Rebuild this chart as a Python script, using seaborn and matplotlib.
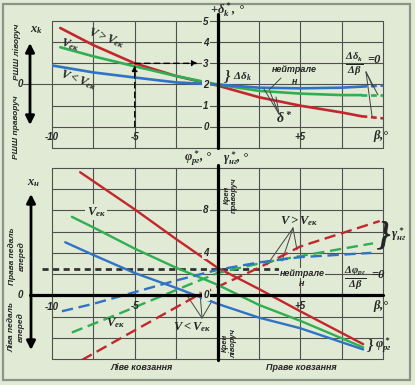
import numpy as np
import pandas as pd
import seaborn as sns
import matplotlib.pyplot as plt
from matplotlib.patches import Rectangle

# top panel: delta*_k (deg) against sideslip beta (deg)
top_beta_red = [-9.5, -7.5, -5, -2.5, 0, 2.5, 5, 7.5, 8.7]
top_red = [4.67, 3.86, 3.0, 2.4, 1.95, 1.4, 1.0, 0.68, 0.5]
top_beta_green = [-9.5, -7.5, -5, -2.5, 0, 2.5, 5, 7.5, 8.7]
top_green = [3.76, 3.33, 2.86, 2.4, 2.0, 1.7, 1.57, 1.5, 1.5]
top_beta_blue = [-10, -7.5, -5, -2.5, 0, 2.5, 5, 7.5, 8.7]
top_blue = [2.9, 2.57, 2.33, 2.1, 2.0, 1.85, 1.82, 1.85, 1.9]
tail_beta = [8.7, 10]
tail_red = [0.5, 0.4]
tail_green = [1.5, 1.5]
tail_blue = [1.9, 1.95]
# read-off example at beta = -5
probe_beta = -5
probe_delta = 3.0

# bottom panel: phi*_rg (solid) and gamma*_ng (dashed)
phi_beta_red = [-8.3, -5, -2.5, 0, 2.5, 5, 8.8]
phi_red = [11.6, 8.1, 5.3, 2.6, 0.6, -1.5, -4.6]
phi_beta_green = [-8.8, -7.5, -5, -2.5, 0, 2.5, 5, 8.8]
phi_green = [7.4, 6.4, 4.4, 2.6, 1.0, -0.9, -2.4, -4.9]
phi_beta_blue = [-9.2, -7.5, -5, -2.5, 0, 2.5, 5, 8.8]
phi_blue = [5.0, 3.8, 2.1, 0.7, -0.8, -2.1, -3.1, -5.1]
gam_beta_red = [-8.2, -5, -1.2, 0, 2.5, 5, 9.8]
gam_red = [-6.1, -3.3, 0, 0.8, 2.6, 4.6, 7.0]
gam_beta_green = [-8.8, -5.9, -2.5, 0, 2.5, 5, 9.4]
gam_green = [-3.5, -1.7, 0.5, 2.1, 3.0, 3.7, 4.9]
gam_beta_blue = [-9.4, -7.5, -5, -2.5, 0, 2.5, 5, 9.3]
gam_blue = [-1.5, -0.8, 0.3, 1.4, 2.4, 3.1, 3.6, 4.0]
neutral_beta = [-10.6, 6.6]
neutral_level = 2.5

W, H = 415, 385
BG = '#e0ead4'
GRID = '#505050'
pal = {'red': '#c3262d', 'green': '#2fae52', 'blue': '#2e73c6'}

sns.set_style('white')
plt.rcParams['font.family'] = ['Liberation Sans', 'DejaVu Sans']
plt.rcParams['mathtext.fontset'] = 'custom'
plt.rcParams['mathtext.rm'] = 'Liberation Serif:bold:italic'
plt.rcParams['mathtext.it'] = 'Liberation Serif:bold:italic'
plt.rcParams['mathtext.bf'] = 'Liberation Serif:bold:italic'


def frame(beta, vals, colour, kind):
    return pd.DataFrame({'beta': beta, 'val': vals, 'colour': colour, 'kind': kind})


top = pd.concat([
    frame(top_beta_red, top_red, 'red', 'main'),
    frame(top_beta_green, top_green, 'green', 'main'),
    frame(top_beta_blue, top_blue, 'blue', 'main'),
    frame(tail_beta, tail_red, 'red', 'tail'),
    frame(tail_beta, tail_green, 'green', 'tail'),
    frame(tail_beta, tail_blue, 'blue', 'tail'),
], ignore_index=True)

bot = pd.concat([
    frame(phi_beta_red, phi_red, 'red', 'phi'),
    frame(phi_beta_green, phi_green, 'green', 'phi'),
    frame(phi_beta_blue, phi_blue, 'blue', 'phi'),
    frame(gam_beta_red, gam_red, 'red', 'gamma'),
    frame(gam_beta_green, gam_green, 'green', 'gamma'),
    frame(gam_beta_blue, gam_blue, 'blue', 'gamma'),
], ignore_index=True)

fig = plt.figure(figsize=(W / 100, H / 100), dpi=100, facecolor=BG)
fig.add_artist(Rectangle((3 / W, 5 / H), 407 / W, 376 / H, transform=fig.transFigure,
                         fill=False, ec='#8d928a', lw=1.6))

ax1 = fig.add_axes([52 / W, 1 - 148 / H, 331 / W, 127 / H])
ax2 = fig.add_axes([52 / W, 1 - 359 / H, 331 / W, 191 / H])

for ax, lo, hi, step in [(ax1, -1, 5, 1), (ax2, -6, 12, 2)]:
    ax.set_facecolor('none')
    ax.set_xlim(-10, 10)
    ax.set_ylim(lo, hi)
    ax.set_xticks(np.arange(-10, 10.1, 2.5))
    ax.set_yticks(np.arange(lo, hi + 0.1, step))
    ax.grid(True, color=GRID, lw=0.8)
    for gl in ax.get_xgridlines() + ax.get_ygridlines():
        gl.set_clip_on(False)
    ax.tick_params(length=0, labelbottom=False, labelleft=False)
    for s in ax.spines.values():
        s.set_visible(False)

sns.lineplot(data=top, x='beta', y='val', hue='colour', style='kind', palette=pal,
             dashes={'main': '', 'tail': (2.2, 1.4)}, estimator=None, sort=False,
             lw=1.9, legend=False, ax=ax1)
sns.lineplot(data=bot, x='beta', y='val', hue='colour', style='kind', palette=pal,
             dashes={'phi': '', 'gamma': (4.8, 2.4)}, estimator=None, sort=False,
             lw=1.7, legend=False, ax=ax2)
ax1.set_xlabel(''); ax1.set_ylabel('')
ax2.set_xlabel(''); ax2.set_ylabel('')

# neutral level (dashed black) in bottom panel
ax2.plot(neutral_beta, [neutral_level] * 2, color='#333333', lw=2.0, ls=(0, (2.2, 1.6)),
         clip_on=False, zorder=1)

# thick axes
ax1.plot([0, 0], [-1, 5.35], color='k', lw=2.3, clip_on=False, zorder=5)
ax1.plot([-11.75, -10], [2, 2], color=GRID, lw=0.8, clip_on=False)
ax2.plot([0, 0], [-6.1, 12.3], color='k', lw=2.3, clip_on=False, zorder=5)
ax2.plot([-11.3, 10], [0, 0], color='k', lw=2.3, clip_on=False, zorder=5)

# dashed read-off arrows (top)
ax1.annotate('', xy=(probe_beta, probe_delta - 0.1), xytext=(probe_beta, 0),
             arrowprops=dict(arrowstyle='-|>', ls=(0, (4, 3)), lw=1.0, color='k',
                             mutation_scale=8, shrinkA=0, shrinkB=0))
ax1.annotate('', xy=(-1.2, probe_delta), xytext=(probe_beta, probe_delta),
             arrowprops=dict(arrowstyle='-|>', ls=(0, (4, 3)), lw=1.0, color='k',
                             mutation_scale=8, shrinkA=0, shrinkB=0))


def P(x, y):
    return (x, H - y)


def T(x, y, s, size=7, serif=False, box=False, **kw):
    fam = ['Liberation Serif', 'DejaVu Serif'] if serif else ['Liberation Sans', 'DejaVu Sans']
    kw.setdefault('ha', 'center')
    kw.setdefault('va', 'center')
    bb = dict(boxstyle='square,pad=0.1', fc=BG, ec='none') if box else None
    fig.text(x / W, 1 - y / H, s, fontsize=size, family=fam, weight='bold',
             style='italic', bbox=bb, zorder=10, **kw)


def lead(x0, y0, x1, y1):
    ax1.annotate('', xy=P(x1, y1), xytext=P(x0, y0), xycoords='figure pixels',
                 textcoords='figure pixels',
                 arrowprops=dict(arrowstyle='-', lw=0.7, color='#444444',
                                 shrinkA=0, shrinkB=0))


def dbl_arrow(x, y0, y1):
    ax1.annotate('', xy=P(x, y0), xytext=P(x, y1), xycoords='figure pixels',
                 textcoords='figure pixels',
                 arrowprops=dict(arrowstyle='<|-|>', lw=2.0, color='k',
                                 mutation_scale=13, shrinkA=0, shrinkB=0))


# ---- top panel texts
for v in range(6):
    T(206, 127 - 21 * v, str(v), 7, box=True)
T(52, 137, '-10', 7)
T(135, 137, '-5', 7)
T(300, 137, '+5', 7)
T(381, 136, r'$\beta$,°', 9, serif=True)
T(228, 10, r'$+\delta^*_k$, °', 9, serif=True)
T(228, 76, '}', 11, serif=True)
T(242, 77, r'$\Delta\delta_k$', 8, serif=True)
T(294, 70, 'нейтрале', 6.5)
T(295, 81, 'н', 6.5)
T(284, 119, r'$\delta^*$', 10, serif=True)
T(354, 65, r'$\frac{\Delta\delta_k}{\Delta\beta}$', 11, serif=True)
T(374, 60, '=0', 9, serif=True)
T(106, 38, r'$V > V_{ек}$', 9, serif=True, rotation=-20)
T(70, 45, r'$V_{ек}$', 9, serif=True, rotation=-15)
T(78, 80, r'$V < V_{ек}$', 9, serif=True, rotation=-20)
T(36, 30, r'$x_k$', 9, serif=True)
T(20, 84, '0', 7)
T(17, 52, 'РШШ ліворуч', 6, rotation=90)
T(17, 127, 'РШШ праворуч', 6, rotation=90)
dbl_arrow(30, 43, 125)
lead(281, 78, 269, 90)
for ex, ey in [(264, 89), (270, 92), (276, 97)]:
    lead(279, 114, ex, ey)
for ex, ey in [(373, 87), (378, 95), (372, 116)]:
    lead(366, 72, ex, ey)

# ---- bottom panel texts
for v in (8, 4, 0):
    T(206, 295 - 10.6 * v, str(v), 7, box=True)
T(52, 307, '-10', 7)
T(135, 306, '-5', 7)
T(300, 306, '+5', 7)
T(381, 306, r'$\beta$,°', 9, serif=True)
T(198, 158, r'$\varphi^*_{рг}$, °', 9, serif=True)
T(236, 158, r'$\gamma^*_{нг}$, °', 9, serif=True)
T(96, 212, r'$V_{ек}$', 9, serif=True, box=True)
T(231, 195, 'Крен\nправоруч', 5.5, rotation=90, linespacing=1.1)
T(299, 221, r'$V > V_{ек}$', 9, serif=True)
for ex, ey in [(267, 265), (282, 261), (297, 250)]:
    lead(293, 228, ex, ey)
T(385, 236, '}', 24, serif=True)
T(399, 234, r'$\gamma^*_{нг}$', 9, serif=True)
T(302, 273, 'нейтрале', 6.5, box=True)
T(302, 284, 'н', 6.5)
T(355, 278, r'$\frac{\Delta\varphi_{рг}}{\Delta\beta}$', 11, serif=True)
T(378, 275, '=0', 9, serif=True)
T(371, 345, '}', 11, serif=True)
T(383, 345, r'$\varphi^*_{рг}$', 9, serif=True)
T(115, 323, r'$V_{ек}$', 9, serif=True)
T(192, 327, r'$V < V_{ек}$', 9, serif=True)
for ex, ey in [(186, 294), (200, 292), (212, 301)]:
    lead(202, 318, ex, ey)
T(230, 343, 'Крен\nліворуч', 5.5, rotation=90, linespacing=1.1)
T(142, 367, 'Ліве ковзання', 6.5)
T(301, 367, 'Праве ковзання', 6.5)
T(33, 183, r'$x_н$', 9, serif=True)
T(20, 295, '0', 7)
T(17, 256, 'Права педаль\nвперед', 6, rotation=90, linespacing=1.2)
T(17, 327, 'Ліва педаль\nвперед', 6, rotation=90, linespacing=1.2)
dbl_arrow(31, 194, 350)

fig.savefig('out.png', dpi=100, facecolor=BG)
